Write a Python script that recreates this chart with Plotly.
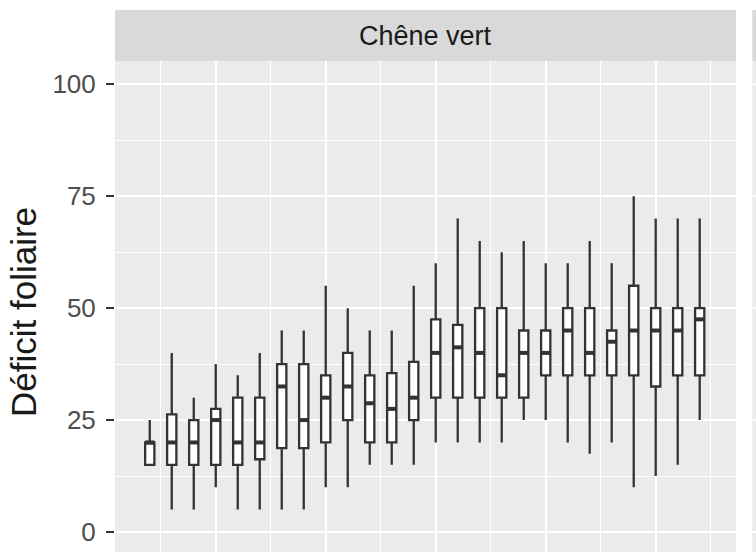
import plotly.graph_objects as go

# ---- data ----
years = list(range(1987, 2013))
lower = [15, 5, 5, 10, 5, 5, 5, 5, 10, 10, 15, 15, 15,
         20, 20, 20, 20, 25, 25, 20, 17.5, 20, 10, 12.5, 15, 25]
q1 = [15, 15, 15, 15, 15, 16.25, 18.75, 18.75, 20, 25, 20, 20, 25,
      30, 30, 30, 30, 30, 35, 35, 35, 35, 35, 32.5, 35, 35]
median = [20, 20, 20, 25, 20, 20, 32.5, 25, 30, 32.5, 28.75, 27.5, 30,
          40, 41.25, 40, 35, 40, 40, 45, 40, 42.5, 45, 45, 45, 47.5]
q3 = [20, 26.25, 25, 27.5, 30, 30, 37.5, 37.5, 35, 40, 35, 35.5, 38,
      47.5, 46.25, 50, 50, 45, 45, 50, 50, 45, 55, 50, 50, 50]
upper = [25, 40, 30, 37.5, 35, 40, 45, 45, 55, 50, 45, 45, 55,
         60, 70, 65, 62.5, 65, 60, 60, 65, 60, 75, 70, 70, 70]
facet_title = "Chêne vert"
y_title = "Déficit foliaire"
y_ticks = [0, 25, 50, 75, 100]

FONT = "Liberation Sans, Arial, sans-serif"
DARK = "#333333"
BOX_W = 0.42

fig = go.Figure()
fig.add_trace(go.Box(
    x=years, q1=q1, median=median, q3=q3,
    lowerfence=lower, upperfence=upper,
    width=BOX_W, whiskerwidth=0, boxpoints=False,
    fillcolor="white", line=dict(color=DARK, width=2.3),
    showlegend=False, hoverinfo="skip",
))

# thicker median segments (ggplot 'fatten')
mx, my = [], []
for yr, m in zip(years, median):
    mx += [yr - BOX_W / 2, yr + BOX_W / 2, None]
    my += [m, m, None]
fig.add_trace(go.Scatter(x=mx, y=my, mode="lines",
                         line=dict(color=DARK, width=4),
                         showlegend=False, hoverinfo="skip"))

W, H = 756, 552
L, R, T, B = 114.5, 20.3, 61, 0
pw = W - L - R
ph = H - T - B
strip_top = 1 + (T - 10) / ph
xs = 1 + (752 - (L + pw)) / pw

shapes = [
    dict(type="rect", xref="paper", yref="paper", x0=0, x1=1, y0=1, y1=strip_top,
         fillcolor="#D9D9D9", line=dict(width=0), layer="below"),
    dict(type="rect", xref="paper", yref="paper", x0=xs, x1=1.2,
         y0=1, y1=strip_top, fillcolor="#D9D9D9", line=dict(width=0), layer="above"),
    dict(type="rect", xref="paper", yref="paper", x0=xs, x1=1.2,
         y0=-0.1, y1=1, fillcolor="#EBEBEB", line=dict(width=0), layer="above"),
]
for v in y_ticks:
    shapes.append(dict(type="line", xref="paper", yref="y",
                       x0=xs, x1=1.2, y0=v, y1=v,
                       line=dict(color="white", width=1.8), layer="above"))

fig.update_layout(
    width=W, height=H,
    margin=dict(l=L, r=R, t=T, b=B, pad=0),
    paper_bgcolor="white", plot_bgcolor="#EBEBEB",
    font=dict(family=FONT),
    shapes=shapes,
    annotations=[
        dict(text=facet_title, xref="paper", yref="paper", x=0.5,
             y=1 + (T - 35.5) / ph, xanchor="center", yanchor="middle",
             showarrow=False, font=dict(size=27, color="#1A1A1A", family=FONT)),
        dict(text=y_title, xref="paper", yref="paper",
             x=(23 - L) / pw, y=(H - 312.5) / ph, textangle=-90,
             xanchor="center", yanchor="middle", showarrow=False,
             font=dict(size=35, color="#1A1A1A", family=FONT)),
    ],
    xaxis=dict(range=[1987 - 1.58, 1987 + 26.65], tick0=1990, dtick=5,
               showticklabels=False, ticks="", zeroline=False,
               showgrid=True, gridcolor="white", gridwidth=1.8,
               minor=dict(tick0=1987.5, dtick=5, showgrid=True,
                          gridcolor="white", gridwidth=0.9)),
    yaxis=dict(range=[-4.47, 105.2], tickmode="array", tickvals=y_ticks,
               ticktext=[str(v) for v in y_ticks],
               ticks="outside", ticklen=8, tickwidth=2, tickcolor=DARK,
               ticklabelstandoff=5,
               tickfont=dict(size=26, color="#4D4D4D", family=FONT),
               zeroline=False, showgrid=True, gridcolor="white", gridwidth=1.8,
               minor=dict(tickvals=[12.5, 37.5, 62.5, 87.5], showgrid=True,
                          gridcolor="white", gridwidth=0.9)),
)

fig.write_html("out.html", config={"displayModeBar": False},
               post_script="document.body.style.margin='0';")
